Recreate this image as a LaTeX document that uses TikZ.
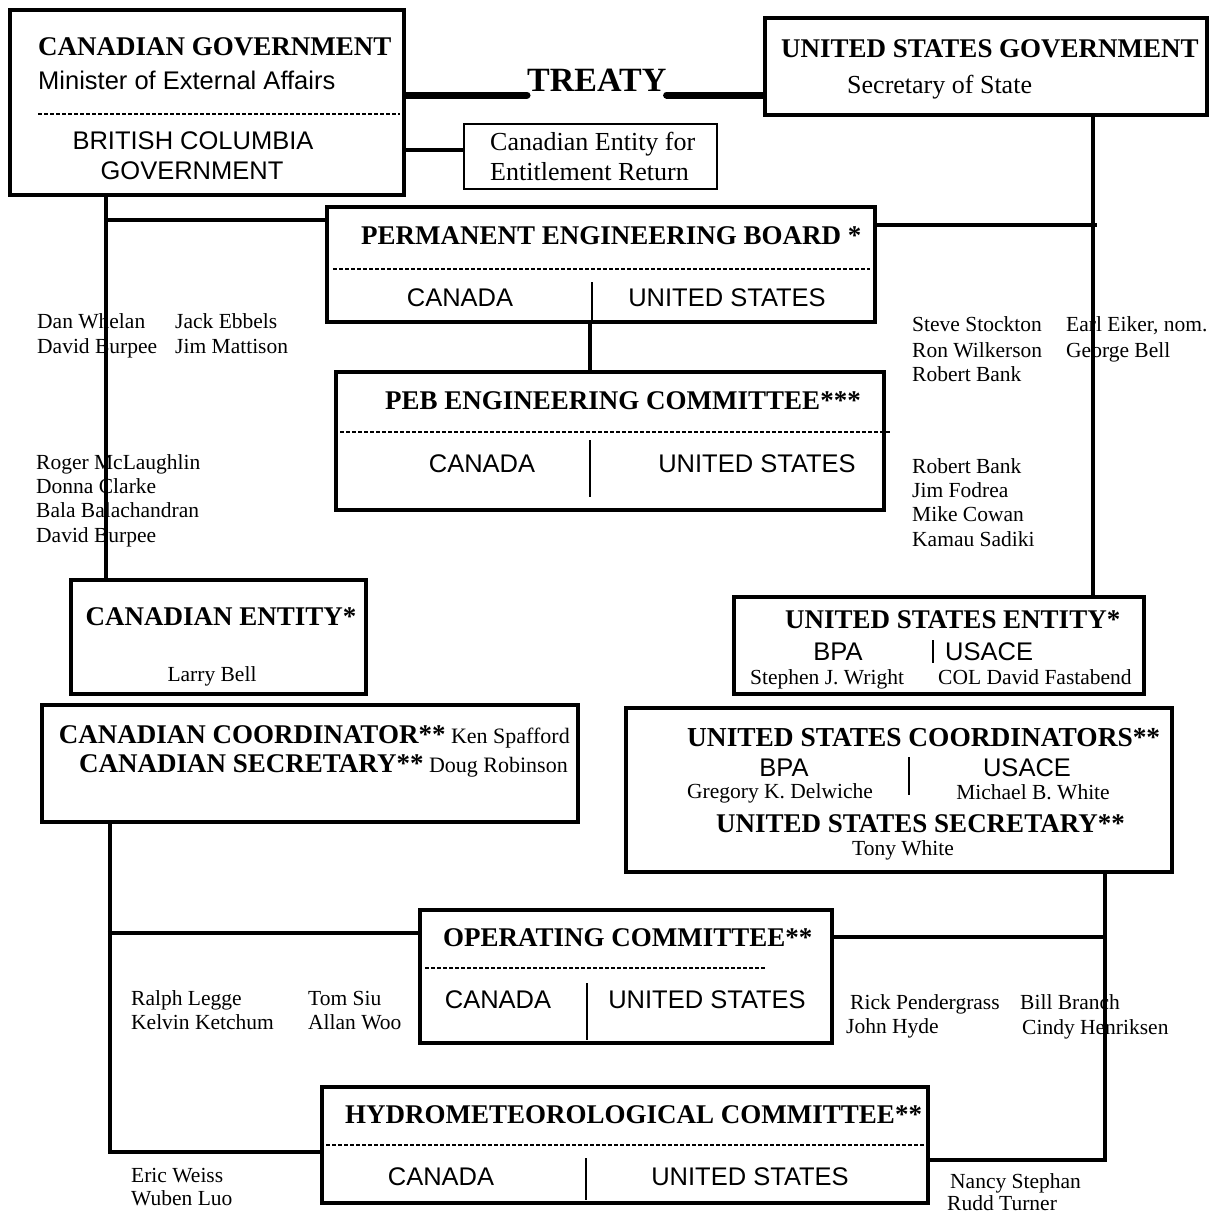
\documentclass[tikz,border=0pt]{standalone}
\usepackage{fontspec}
\setmainfont{Liberation Serif}
\newfontfamily\sansf{Liberation Sans}
\begin{document}
\begin{tikzpicture}[x=1pt,y=-1pt,
 box/.style={draw, line width=4.5pt, rectangle, inner sep=0pt},
 thinbox/.style={draw, line width=2pt, rectangle, inner sep=0pt},
 conn/.style={line width=4.5pt},
 treatyline/.style={line width=7pt, line cap=round},
 dashline/.style={line width=1.3pt, dash pattern=on 4pt off 2pt},
 divider/.style={line width=2pt},
 ttl/.style={font=\fontsize{27}{30}\selectfont\bfseries, inner sep=0pt},
 sans/.style={font=\sansf\fontsize{25.5}{30}\selectfont, inner sep=0pt},
 nm/.style={font=\fontsize{21.5}{24}\selectfont, inner sep=0pt},
 srf/.style={font=\fontsize{26}{30}\selectfont, inner sep=0pt}]
\useasboundingbox[fill=white] (0,0) rectangle (1215,1213);

% ---------- boxes ----------
\node[box, minimum width=394pt, minimum height=185pt] (cangov) at (207,102.5) {};
\node[box, minimum width=442pt, minimum height=97pt] (usgov) at (986,66.5) {};
\node[thinbox, minimum width=253pt, minimum height=65pt] (cent) at (590.5,156.5) {};
\node[box, minimum width=548pt, minimum height=115pt] (peb) at (601,264.5) {};
\node[box, minimum width=548pt, minimum height=138pt] (pebec) at (610,441) {};
\node[box, minimum width=295pt, minimum height=114pt] (canent) at (218.5,637) {};
\node[box, minimum width=410pt, minimum height=97pt] (usent) at (939,645.5) {};
\node[box, minimum width=536pt, minimum height=117pt] (cancoord) at (310,763.5) {};
\node[box, minimum width=546pt, minimum height=164pt] (uscoord) at (899,790) {};
\node[box, minimum width=412pt, minimum height=133pt] (opcom) at (626,976.5) {};
\node[box, minimum width=606pt, minimum height=116pt] (hydro) at (625,1145) {};

% ---------- inner dashed lines and dividers ----------
\draw[dashline] (38,114) -- (400,114);
\draw[dashline] (333,269) -- (870,269);
\draw[dashline] (340,432) -- (890,432);
\draw[dashline] (425,968) -- (765,968);
\draw[dashline] (326,1145) -- (925,1145);
\draw[divider] (592,282) -- (592,320);
\draw[divider] (590,440) -- (590,497);
\draw[divider] (587,983) -- (587,1040);
\draw[divider] (586,1158) -- (586,1200);
\draw[divider] (933,640) -- (933,663);
\draw[divider] (909,757) -- (909,795);

% ---------- texts in boxes ----------
\node[ttl, anchor=base west] (t1) at (38,55) {CANADIAN GOVERNMENT};
\node[sans, anchor=base west] (t2) at (38,89) {Minister of External Affairs};
\node[sans, anchor=base] (t3) at (193,149) {BRITISH COLUMBIA};
\node[sans, anchor=base] (t4) at (192,179) {GOVERNMENT};
\node[font=\fontsize{34}{36}\selectfont\bfseries, inner sep=0pt, anchor=base west] (treaty) at (527,91) {TREATY};
\node[ttl, anchor=base west] (t5) at (781,57) {UNITED STATES GOVERNMENT};
\node[srf, anchor=base west] (t6) at (847,93) {Secretary of State};
\node[srf, anchor=base west] (t7) at (490,150) {Canadian Entity for};
\node[srf, anchor=base west] (t8) at (490,180) {Entitlement Return};

\node[ttl, anchor=base west] (t9) at (361,244) {PERMANENT ENGINEERING BOARD *};
\node[sans, anchor=base] (t10) at (460,306) {CANADA};
\node[sans, anchor=base] (t11) at (727,306) {UNITED STATES};

\node[ttl, anchor=base west] (t12) at (385,409) {PEB ENGINEERING COMMITTEE***};
\node[sans, anchor=base] (t13) at (482,472) {CANADA};
\node[sans, anchor=base] (t14) at (757,472) {UNITED STATES};

\node[ttl, anchor=base] (t15) at (221,625) {CANADIAN ENTITY*};
\node[nm, anchor=base] (t16) at (212,681) {Larry Bell};

\node[ttl, anchor=base west] (t17) at (785,628) {UNITED STATES ENTITY*};
\node[sans, anchor=base] (t18) at (838,660) {BPA};
\node[sans, anchor=base west] (t19) at (945,660) {USACE};
\node[nm, anchor=base west] (t20) at (750,684) {Stephen J. Wright};
\node[nm, anchor=base west] (t21) at (938,684) {COL David Fastabend};

\node[ttl, anchor=base east] (t22) at (570,743) {CANADIAN COORDINATOR**\fontsize{22}{24}\selectfont\mdseries\ Ken Spafford};
\node[ttl, anchor=base east] (t23) at (568,772) {CANADIAN SECRETARY**\fontsize{22}{24}\selectfont\mdseries\ Doug Robinson};

\node[ttl, font=\fontsize{27.4}{30}\selectfont\bfseries, anchor=base west] (t24) at (687,746) {UNITED STATES COORDINATORS**};
\node[sans, anchor=base] (t25) at (784,776) {BPA};
\node[sans, anchor=base] (t26) at (1027,776) {USACE};
\node[nm, anchor=base] (t27) at (780,798) {Gregory K. Delwiche};
\node[nm, anchor=base] (t28) at (1033,799) {Michael B. White};
\node[ttl, anchor=base west] (t29) at (716,832) {UNITED STATES SECRETARY**};
\node[nm, anchor=base] (t30) at (903,855) {Tony White};

\node[ttl, anchor=base west] (t31) at (443,946) {OPERATING COMMITTEE**};
\node[sans, anchor=base] (t32) at (498,1008) {CANADA};
\node[sans, anchor=base] (t33) at (707,1008) {UNITED STATES};

\node[ttl, anchor=base west] (t34) at (345,1123) {HYDROMETEOROLOGICAL COMMITTEE**};
\node[sans, anchor=base] (t35) at (441,1185) {CANADA};
\node[sans, anchor=base] (t36) at (750,1185) {UNITED STATES};

% ---------- names ----------
\node[nm, anchor=base west] (n1) at (37,328) {Dan Whelan};
\node[nm, anchor=base west] (n2) at (37,353) {David Burpee};
\node[nm, anchor=base west] (n3) at (175,328) {Jack Ebbels};
\node[nm, anchor=base west] (n4) at (175,353) {Jim Mattison};
\node[nm, anchor=base west] (n5) at (912,331) {Steve Stockton};
\node[nm, anchor=base west] (n6) at (912,357) {Ron Wilkerson};
\node[nm, anchor=base west] (n7) at (912,381) {Robert Bank};
\node[nm, anchor=base west] (n8) at (1066,331) {Earl Eiker, nom.};
\node[nm, anchor=base west] (n9) at (1066,357) {George Bell};
\node[nm, anchor=base west] (n10) at (36,469) {Roger McLaughlin};
\node[nm, anchor=base west] (n11) at (36,493) {Donna Clarke};
\node[nm, anchor=base west] (n12) at (36,517) {Bala Balachandran};
\node[nm, anchor=base west] (n13) at (36,542) {David Burpee};
\node[nm, anchor=base west] (n14) at (912,473) {Robert Bank};
\node[nm, anchor=base west] (n15) at (912,497) {Jim Fodrea};
\node[nm, anchor=base west] (n16) at (912,521) {Mike Cowan};
\node[nm, anchor=base west] (n17) at (912,546) {Kamau Sadiki};
\node[nm, anchor=base west] (n18) at (131,1005) {Ralph Legge};
\node[nm, anchor=base west] (n19) at (131,1029) {Kelvin Ketchum};
\node[nm, anchor=base west] (n20) at (308,1005) {Tom Siu};
\node[nm, anchor=base west] (n21) at (308,1029) {Allan Woo};
\node[nm, anchor=base west] (n22) at (850,1009) {Rick Pendergrass};
\node[nm, anchor=base west] (n23) at (846,1033) {John Hyde};
\node[nm, anchor=base west] (n24) at (1020,1009) {Bill Branch};
\node[nm, anchor=base west] (n25) at (1022,1034) {Cindy Henriksen};
\node[nm, anchor=base west] (n26) at (131,1182) {Eric Weiss};
\node[nm, anchor=base west] (n27) at (131,1205) {Wuben Luo};
\node[nm, anchor=base west] (n28) at (950,1188) {Nancy Stephan};
\node[nm, anchor=base west] (n29) at (947,1210) {Rudd Turner};

% ---------- connector coordinates ----------
\coordinate (tl) at (0,95);
\coordinate (ceL) at (0,150);
\coordinate (cv) at (106,0);
\coordinate (pebLy) at (0,220);
\coordinate (pebRy) at (0,225);
\coordinate (uv) at (1093,0);
\coordinate (pebRend) at (1097,225);
\coordinate (pv) at (590,0);
\coordinate (ccv) at (110,0);
\coordinate (ocLy) at (0,933);
\coordinate (hyLy) at (0,1152);
\coordinate (ucv) at (1105,0);
\coordinate (ocRy) at (0,937);
\coordinate (hyRy) at (0,1160);

% ---------- connectors ----------
\draw[treatyline] (cangov.east |- tl) -- (treaty.west |- tl);
\draw[treatyline] (treaty.east |- tl) -- (usgov.west |- tl);
\draw[conn] (cangov.east |- ceL) -- (cent.west |- ceL);
\draw[conn] (cangov.south -| cv) -- (canent.north -| cv);
\draw[conn] ([xshift=-2.25pt]cv |- pebLy) -- (peb.west |- pebLy);
\draw[conn] (peb.east |- pebRy) -- (pebRend);
\draw[conn] (usgov.south -| uv) -- (usent.north -| uv);
\draw[conn] (peb.south -| pv) -- (pebec.north -| pv);
\draw[conn] (cancoord.south -| ccv) -- ([yshift=2.25pt]ccv |- hyLy);
\draw[conn] ([xshift=-2.25pt]ccv |- ocLy) -- (opcom.west |- ocLy);
\draw[conn] ([xshift=-2.25pt]ccv |- hyLy) -- (hydro.west |- hyLy);
\draw[conn] (uscoord.south -| ucv) -- ([yshift=2.25pt]ucv |- hyRy);
\draw[conn] (opcom.east |- ocRy) -- ([xshift=2.25pt]ucv |- ocRy);
\draw[conn] (hydro.east |- hyRy) -- ([xshift=2.25pt]ucv |- hyRy);
\end{tikzpicture}
\end{document}
